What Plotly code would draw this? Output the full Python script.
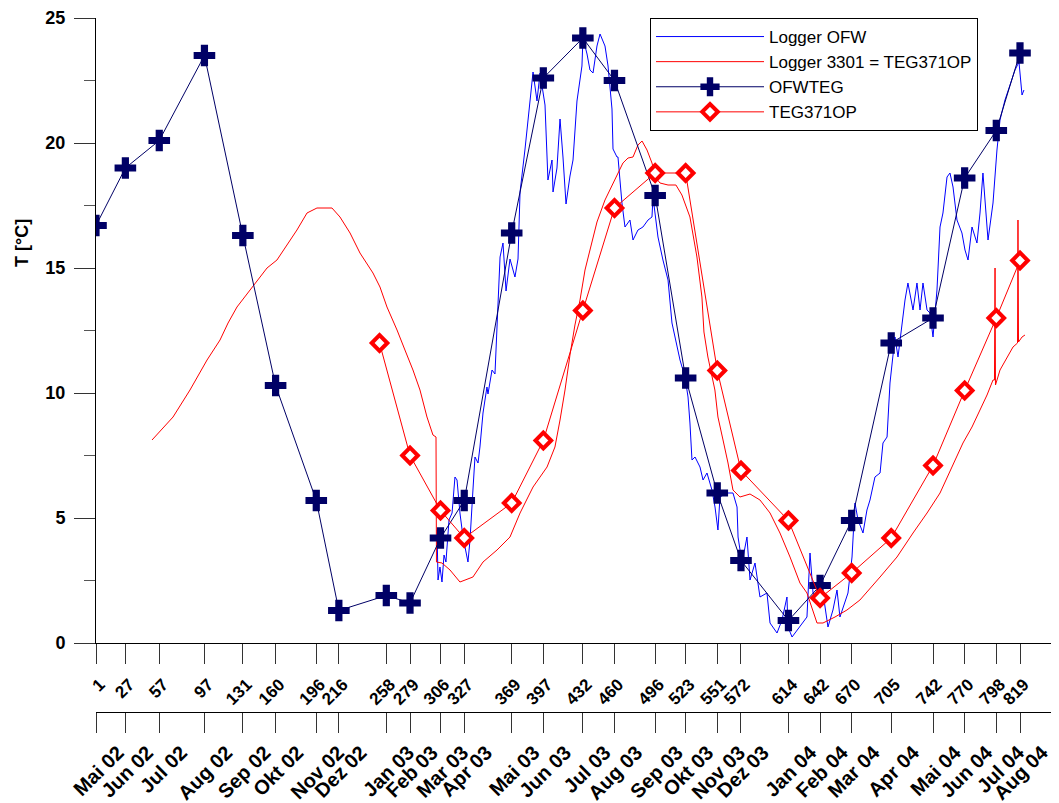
import plotly.graph_objects as go

# ---------------- data ----------------
tick_days = [1, 27, 57, 97, 131, 160, 196, 216, 258, 279, 306, 327, 369, 397, 432, 460,
             496, 523, 551, 572, 614, 642, 670, 705, 742, 770, 798, 819]
month_labels = ["Mai 02", "Jun 02", "Jul 02", "Aug 02", "Sep 02", "Okt 02", "Nov 02", "Dez 02",
                "Jan 03", "Feb 03", "Mar 03", "Apr 03", "Mai 03", "Jun 03", "Jul 03", "Aug 03",
                "Sep 03", "Okt 03", "Nov 03", "Dez 03", "Jan 04", "Feb 04", "Mar 04", "Apr 04",
                "Mai 04", "Jun 04", "Jul 04", "Aug 04"]

ofwteg_days = tick_days
ofwteg_t = [16.7, 19.0, 20.1, 23.5, 16.3, 10.3, 5.7, 1.3, 1.9, 1.6, 4.2, 5.7, 16.4, 22.6,
            24.2, 22.5, 17.9, 10.6, 6.0, 3.3, 0.9, 2.3, 4.9, 12.0, 13.0, 18.6, 20.5, 23.6]

teg_days = [252, 279, 306, 327, 369, 397, 432, 460, 496, 523, 551, 572, 614, 642, 670,
            705, 742, 770, 798, 819]
teg_t = [12.0, 7.5, 5.3, 4.2, 5.6, 8.1, 13.3, 17.4, 18.8, 18.8, 10.9, 6.9, 4.9, 1.8, 2.8,
         4.2, 7.1, 10.1, 13.0, 15.3]

logger_ofw_days = [302.9, 303.8, 305.5, 307.3, 309.1, 310.8, 313.5, 316.2, 318.8, 320.6, 323.2,
                   325.9, 330.3, 332.1, 334.7, 336.5, 339.2, 340.9, 343.6, 347.1, 348.0, 351.6,
                   354.2, 356.0, 358.7, 361.3, 364.0, 367.5, 371.9, 374.6, 376.4, 380.8, 385.2,
                   387.9, 391.4, 394.1, 398.5, 401.1, 404.7, 405.6, 409.1, 411.8, 414.4, 417.1,
                   420.6, 423.3, 426.8, 431.2, 432.1, 435.7, 438.3, 441.0, 444.5, 447.2, 451.6,
                   454.3, 457.8, 458.7, 462.2, 463.1, 466.6, 469.3, 473.7, 476.4, 480.8, 485.2,
                   489.7, 493.2, 494.1, 498.5, 502.9, 507.4, 510.9, 515.3, 518.0, 522.4, 525.1,
                   526.8, 528.6, 531.3, 535.7, 538.4, 541.9, 546.3, 549.0, 551.6, 553.4, 559.6,
                   564.9, 568.5, 569.4, 572.9, 577.3, 580.0, 584.4, 588.8, 595.0, 597.7, 603.9,
                   608.3, 612.7, 613.6, 617.2, 630.4, 633.1, 635.8, 640.2, 644.6, 649.0, 653.4,
                   657.0, 659.6, 664.1, 666.7, 670.3, 672.9, 675.6, 680.0, 683.5, 686.2, 690.6,
                   695.1, 697.7, 701.3, 703.9, 708.3, 711.0, 714.5, 717.2, 719.8, 724.3, 727.8,
                   730.5, 733.1, 736.7, 739.3, 742.0, 745.5, 748.2, 750.8, 754.4, 757.0, 759.7,
                   763.2, 767.6, 770.3, 773.0, 776.5, 780.9, 783.6, 786.2, 790.7, 795.1, 798.6,
                   801.3, 805.7, 810.1, 814.6, 818.1, 820.8, 822.5]
logger_ofw_t = [4.52, 2.52, 3.04, 2.44, 3.52, 3.24, 4.92, 5.2, 6.64, 6.52, 5.2,
                4.24, 3.24, 4.12, 6.12, 7.44, 7.2, 7.84, 9.2, 10.24, 9.96, 10.92,
                10.76, 12.8, 15.44, 16.0, 14.08, 15.36, 14.64, 15.36, 18.04, 19.76, 21.84,
                22.84, 21.68, 22.8, 21.52, 18.52, 19.32, 18.04, 19.0, 20.96, 19.44, 17.56,
                18.68, 19.32, 21.68, 23.08, 24.2, 23.56, 22.92, 22.8, 23.88, 24.36, 23.88,
                23.08, 21.36, 19.76, 19.44, 19.44, 17.6, 16.64, 16.92, 16.12, 16.52, 16.64,
                16.92, 17.04, 17.84, 16.24, 15.32, 14.52, 12.8, 11.84, 11.32, 10.64, 9.84,
                8.8, 7.32, 7.44, 7.04, 6.52, 6.8, 6.12, 5.44, 4.52, 5.84, 6.0,
                6.0, 5.44, 4.24, 3.2, 4.24, 2.52, 3.2, 1.84, 2.0, 0.8, 0.4,
                0.92, 1.84, 0.64, 0.24, 1.04, 3.6, 2.0, 1.6, 2.0, 0.64, 1.32,
                2.12, 1.04, 1.6, 2.0, 3.44, 5.6, 4.92, 4.4, 5.32, 5.72, 6.64,
                6.8, 8.0, 8.24, 10.4, 12.24, 11.44, 12.8, 13.72, 14.4, 13.32, 14.4,
                13.32, 14.4, 13.32, 13.2, 12.24, 14.12, 16.64, 17.2, 18.64, 18.8, 18.24,
                16.92, 16.4, 15.72, 15.32, 16.64, 16.0, 17.2, 18.8, 16.12, 17.6, 19.72,
                20.92, 21.72, 22.32, 22.92, 23.24, 21.92, 22.12]

logger_3301_days = [50.6, 69.2, 84.2, 99.3, 110.8, 117.9, 125.8, 137.3, 152.4, 161.2, 170.1,
                    178.9, 187.8, 196.6, 209.9, 217.0, 225.9, 234.7, 246.2, 252.4, 258.6, 267.5,
                    274.5, 281.6, 287.8, 294.0, 299.3, 302.0, 302.4, 307.3, 314.4, 323.2, 334.7,
                    343.6, 356.0, 367.5, 376.4, 387.9, 400.3, 407.3, 411.8, 416.2, 420.6, 425.0,
                    429.5, 433.9, 438.3, 444.5, 451.6, 457.8, 463.1, 467.5, 472.0, 476.4, 480.8,
                    484.4, 488.8, 493.2, 496.7, 500.3, 507.4, 514.4, 519.7, 526.8, 533.0, 537.4,
                    539.2, 542.7, 548.9, 551.6, 556.1, 560.5, 564.9, 571.1, 580.0, 588.8, 597.7,
                    606.5, 615.4, 624.2, 630.4, 639.3, 644.6, 655.2, 665.8, 677.3, 695.1, 710.1,
                    724.3, 736.7, 748.2, 758.8, 768.5, 776.5, 783.6, 789.8, 795.1, 796.4, 796.9,
                    797.3, 801.3, 807.5, 812.8, 816.8, 817.2, 817.7, 820.8, 823.4]
logger_3301_t = [8.12, 9.04, 10.12, 11.32, 12.12, 12.8, 13.44, 14.12, 15.0, 15.32, 15.92,
                 16.52, 17.2, 17.4, 17.4, 17.04, 16.4, 15.6, 14.8, 14.24, 13.44, 12.52,
                 11.72, 10.92, 10.12, 9.04, 8.32, 8.24, 3.24, 3.2, 2.92, 2.44, 2.64,
                 3.24, 3.72, 4.24, 5.2, 6.24, 7.04, 7.84, 8.92, 10.12, 11.52, 12.72,
                 13.72, 14.92, 15.72, 16.84, 17.72, 18.32, 18.84, 19.2, 19.4, 19.44, 19.92,
                 20.08, 19.72, 19.2, 18.6, 18.4, 18.32, 18.32, 17.92, 17.04, 15.44, 13.84,
                 12.44, 11.44, 10.12, 9.04, 8.12, 7.2, 6.12, 5.84, 5.96, 5.72, 5.2,
                 4.4, 3.44, 2.4, 2.0, 0.8, 0.8, 1.04, 1.32, 1.72, 2.64, 3.44,
                 4.4, 5.2, 6.0, 7.04, 8.0, 8.64, 9.32, 9.92, 10.52, 10.52, 15.0,
                 10.32, 10.92, 11.44, 11.84, 12.0, 16.92, 12.04, 12.24, 12.32]

# ---------------- figure ----------------
FONT = "Liberation Sans, Arial, Helvetica, sans-serif"
NAVY = "#000066"
RED = "#ff0000"
BLUE = "#0000ff"

fig = go.Figure()
fig.add_trace(go.Scatter(x=logger_ofw_days, y=logger_ofw_t, mode="lines", name="Logger OFW",
                         line=dict(color=BLUE, width=1)))
fig.add_trace(go.Scatter(x=logger_3301_days, y=logger_3301_t, mode="lines",
                         name="Logger 3301 = TEG371OP", line=dict(color=RED, width=1)))
fig.add_trace(go.Scatter(x=ofwteg_days, y=ofwteg_t, mode="lines+markers", name="OFWTEG",
                         line=dict(color=NAVY, width=1),
                         marker=dict(symbol="cross", size=18, color=NAVY,
                                     line=dict(width=0))))
fig.add_trace(go.Scatter(x=teg_days, y=teg_t, mode="lines+markers", name="TEG371OP",
                         line=dict(color=RED, width=1),
                         marker=dict(symbol="diamond", size=12, color="white",
                                     line=dict(color=RED, width=4))))
# carrier trace for the month axis
fig.add_trace(go.Scatter(x=tick_days, y=[None] * len(tick_days), xaxis="x2", mode="lines",
                         showlegend=False, hoverinfo="skip"))

# the page body has an 8 px margin; figure pixel = screen pixel - 8
OFF = 8
W, H = 1059 - OFF, 803 - OFF
ML, MR, MT, MB = 96 - OFF, 0, 18 - OFF, 0
pw = W - ML - MR
ph = H - MT - MB
plot_bottom = 643 - OFF
y0 = (H - plot_bottom) / ph
month_axis_y = 712 - OFF
pos2 = (H - month_axis_y) / ph
xmax = 1 + pw * 0.88528

dayfont = dict(family=FONT, size=17, color="black", weight="bold")
monthfont = dict(family=FONT, size=20, color="black", weight="bold")
yfont = dict(family=FONT, size=18, color="black", weight="bold")

fig.update_layout(
    width=W, height=H,
    margin=dict(l=ML, r=MR, t=MT, b=MB, autoexpand=False),
    paper_bgcolor="white", plot_bgcolor="white",
    font=dict(family=FONT, color="black"),
    showlegend=True,
    legend=dict(x=(650 - OFF - ML) / pw, y=1, xanchor="left", yanchor="top",
                bgcolor="white", bordercolor="black", borderwidth=1,
                font=dict(family=FONT, size=17, color="black"),
                itemwidth=108, tracegroupgap=0),
    xaxis=dict(range=[1, xmax], showgrid=False, zeroline=False, showline=True,
               linecolor="black", linewidth=1, ticks="outside", ticklen=20,
               tickcolor="#333", tickwidth=1, tickmode="array", tickvals=tick_days,
               ticktext=[str(d) for d in tick_days], tickangle=-45, tickfont=dayfont,
               ticklabelshift=4, ticklabelstandoff=4, automargin=False),
    xaxis2=dict(range=[1, xmax], overlaying="x", anchor="free", position=pos2, side="bottom",
                showgrid=False, zeroline=False, showline=True, linecolor="black",
                linewidth=1, ticks="outside", ticklen=20, tickcolor="#333", tickwidth=1,
                tickmode="array", tickvals=tick_days, ticktext=month_labels,
                tickangle=-45, tickfont=monthfont, ticklabelshift=22,
                ticklabelstandoff=0, automargin=False),
    yaxis=dict(domain=[y0, 1], range=[0, 25], showgrid=False, zeroline=False,
               showline=True, linecolor="black", linewidth=1, ticks="outside",
               ticklen=21, tickcolor="#333", tick0=0, dtick=5, tickfont=yfont,
               ticklabelstandoff=5,
               minor=dict(dtick=2.5, ticks="outside", ticklen=11, tickcolor="#555"),
               automargin=False),
    annotations=[dict(text="T [°C]", textangle=-90, xref="paper", yref="paper",
                      x=(22 - OFF - ML) / pw, y=(H - (243 - OFF)) / ph,
                      xanchor="center", yanchor="middle", showarrow=False,
                      font=dict(family=FONT, size=18, color="black", weight="bold"))],
)

fig.write_html("out.html")
